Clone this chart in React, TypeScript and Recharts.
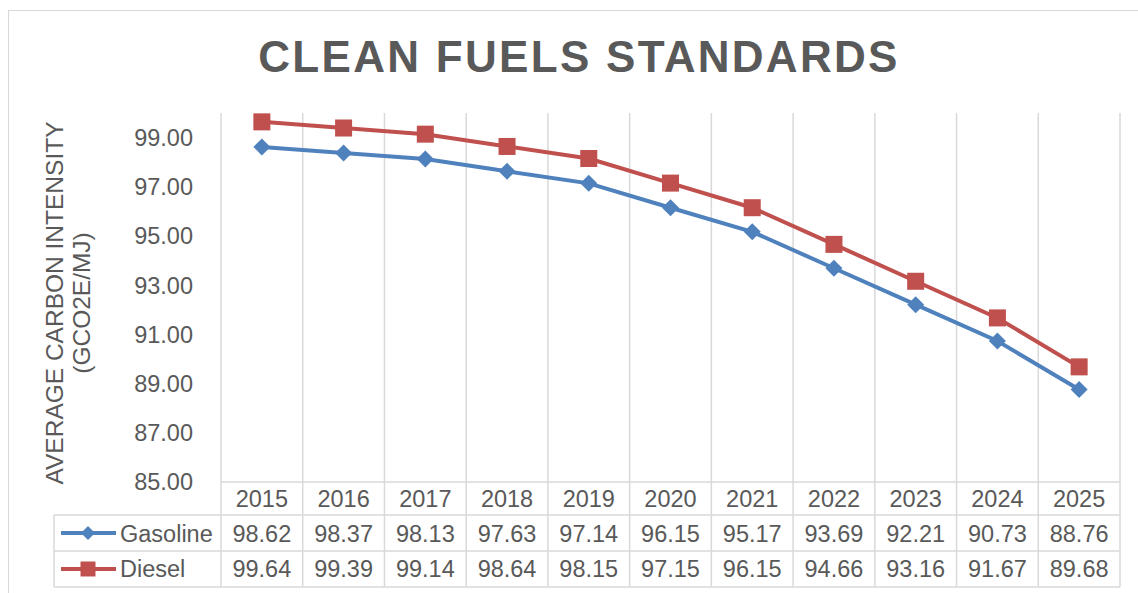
import { CartesianGrid, Customized, Label, Line, LineChart, XAxis, YAxis } from 'recharts'

const years = ['2015', '2016', '2017', '2018', '2019', '2020', '2021', '2022', '2023', '2024', '2025']
const gasoline = [98.62, 98.37, 98.13, 97.63, 97.14, 96.15, 95.17, 93.69, 92.21, 90.73, 88.76]
const diesel = [99.64, 99.39, 99.14, 98.64, 98.15, 97.15, 96.15, 94.66, 93.16, 91.67, 89.68]
const yTicks = [85, 87, 89, 91, 93, 95, 97, 99]

const data = years.map((year, i) => ({ year, gasoline: gasoline[i], diesel: diesel[i] }))

const W = 1138
const H = 593
const PLOT_LEFT = 221
const PLOT_RIGHT = 1120
const PLOT_TOP = 113
const PLOT_BOTTOM = 482
const BAND = (PLOT_RIGHT - PLOT_LEFT) / years.length
const ROW1 = 515
const ROW2 = 551
const ROW3 = 587

const GRID = '#D9D9D9'
const TEXT = '#595959'
const BLUE = '#4F81BD'
const RED = '#C0504D'
const FONT = '"Liberation Sans", Arial, sans-serif'
const FS = 23.5

const Diamond = ({ cx, cy, r, fill }: { cx: number; cy: number; r: number; fill: string }) => (
    <polygon points={`${cx},${cy - r} ${cx + r},${cy} ${cx},${cy + r} ${cx - r},${cy}`} fill={fill} />
)

const Square = ({ cx, cy, s, fill }: { cx: number; cy: number; s: number; fill: string }) => (
    <rect x={cx - s / 2} y={cy - s / 2} width={s} height={s} fill={fill} />
)

const gasDot = (props: any) => <Diamond key={`g-${props.index}`} cx={props.cx} cy={props.cy} r={8.5} fill={BLUE} />
const dieselDot = (props: any) => <Square key={`d-${props.index}`} cx={props.cx} cy={props.cy} s={17} fill={RED} />

// x axis tick draws one column of the data table under the plot
const TableTick = (props: any) => {
    const { x, payload } = props
    const i = payload.index
    const left = x - BAND / 2
    const right = x + BAND / 2
    const txt = { fontFamily: FONT, fontSize: FS, fill: TEXT, textAnchor: 'middle' as const }
    return (
        <g>
            <line x1={right} y1={PLOT_BOTTOM} x2={right} y2={ROW3} stroke={GRID} strokeWidth={1.5} />
            <line x1={left} y1={ROW1} x2={right} y2={ROW1} stroke={GRID} strokeWidth={1.5} />
            <line x1={left} y1={ROW2} x2={right} y2={ROW2} stroke={GRID} strokeWidth={1.5} />
            <line x1={left} y1={ROW3} x2={right} y2={ROW3} stroke={GRID} strokeWidth={1.5} />
            <text x={x} y={507} {...txt}>{payload.value}</text>
            <text x={x} y={542} {...txt}>{gasoline[i].toFixed(2)}</text>
            <text x={x} y={577} {...txt}>{diesel[i].toFixed(2)}</text>
            {i === 0 && (
                <g>
                    <line x1={left} y1={PLOT_BOTTOM} x2={left} y2={ROW3} stroke={GRID} strokeWidth={1.5} />
                    <line x1={54} y1={ROW1} x2={left} y2={ROW1} stroke={GRID} strokeWidth={1.5} />
                    <line x1={54} y1={ROW2} x2={left} y2={ROW2} stroke={GRID} strokeWidth={1.5} />
                    <line x1={54} y1={ROW3} x2={left} y2={ROW3} stroke={GRID} strokeWidth={1.5} />
                    <line x1={54} y1={ROW1} x2={54} y2={ROW3} stroke={GRID} strokeWidth={1.5} />
                    <line x1={61} y1={533} x2={116} y2={533} stroke={BLUE} strokeWidth={4} />
                    <Diamond cx={88} cy={533} r={7} fill={BLUE} />
                    <line x1={61} y1={569} x2={116} y2={569} stroke={RED} strokeWidth={4} />
                    <Square cx={88} cy={569} s={15} fill={RED} />
                    <text x={120} y={542} {...txt} textAnchor="start">Gasoline</text>
                    <text x={120} y={577} {...txt} textAnchor="start">Diesel</text>
                </g>
            )}
        </g>
    )
}

const Title = () => (
    <text x={579} y={72} textAnchor="middle" fontFamily={FONT} fontSize={44} fontWeight="bold" letterSpacing={2.3} fill={TEXT}>
        CLEAN FUELS STANDARDS
    </text>
)

const AxisTitle = () => (
    <g fontFamily={FONT} fontSize={24.5} fill={TEXT} textAnchor="middle">
        <text transform="translate(63,303) rotate(-90)">AVERAGE CARBON INTENSITY</text>
        <text transform="translate(90,303) rotate(-90)">(GCO2E/MJ)</text>
    </g>
)

const App = () => {
    return (
        <div style={{ position: 'absolute', left: 0, top: 0, width: W, height: H, background: '#fff' }}>
            <div style={{ position: 'absolute', left: 8, top: 10, width: W, height: H, border: `1.5px solid ${GRID}` }} />
            <div style={{ position: 'absolute', left: 0, top: 0 }}>
                <LineChart width={W} height={H} data={data} margin={{ top: PLOT_TOP, right: W - PLOT_RIGHT, bottom: 7, left: 0 }}>
                    <CartesianGrid
                        horizontal={false}
                        stroke={GRID}
                        strokeWidth={1.5}
                        verticalCoordinatesGenerator={({ offset }: any) =>
                            Array.from({ length: years.length + 1 }, (_, i) => offset.left + (i * offset.width) / years.length)
                        }
                    />
                    <XAxis
                        dataKey="year"
                        scale="band"
                        height={104}
                        tickSize={0}
                        tickMargin={0}
                        axisLine={{ stroke: GRID, strokeWidth: 1.5 }}
                        tick={<TableTick />}
                        interval={0}
                    />
                    <YAxis
                        width={PLOT_LEFT}
                        domain={[85, 100]}
                        ticks={yTicks}
                        tickFormatter={(v: number) => v.toFixed(2)}
                        axisLine={false}
                        tickLine={false}
                        tickSize={0}
                        tickMargin={28}
                        tick={{ fill: TEXT, fontSize: FS, fontFamily: FONT }}
                    >
                        <Label content={<AxisTitle />} />
                    </YAxis>
                    <Line dataKey="gasoline" stroke={BLUE} strokeWidth={4} dot={gasDot} activeDot={false} isAnimationActive={false} />
                    <Line dataKey="diesel" stroke={RED} strokeWidth={4} dot={dieselDot} activeDot={false} isAnimationActive={false} />
                    <Customized component={<Title />} />
                </LineChart>
            </div>
        </div>
    )
}

export default App
